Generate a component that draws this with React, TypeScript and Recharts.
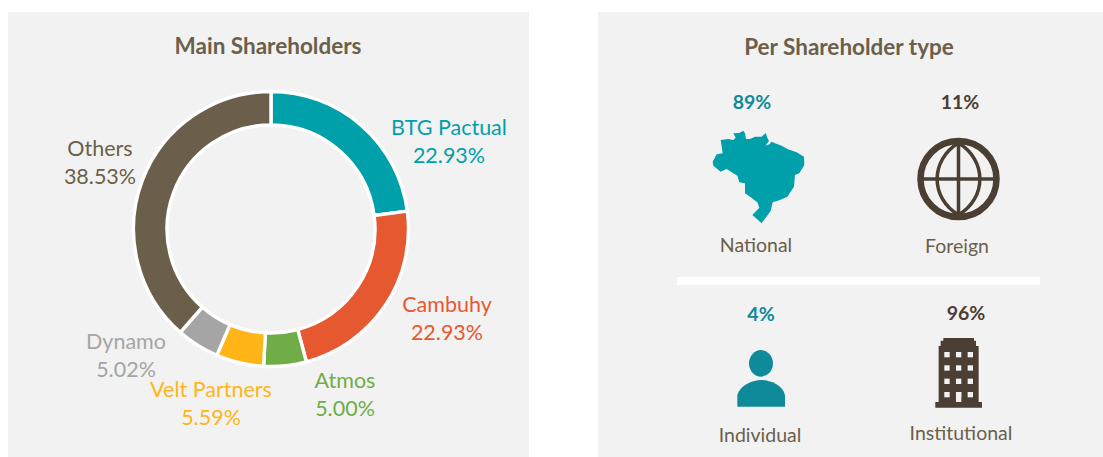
import React from "react";
import { PieChart, Pie, Cell } from "recharts";

const names = ["BTG Pactual", "Cambuhy", "Atmos", "Velt Partners", "Dynamo", "Others"];
const shares = [22.93, 22.93, 5.0, 5.59, 5.02, 38.53];
const colors = ["#00A0AA", "#E6582F", "#70AD47", "#FFB517", "#A5A5A5", "#6B5F4B"];
const labelCenters = [
  [449, 135], [447, 312], [345, 388], [211, 397], [126, 349], [100, 156],
];
const data = names.map((name, i) => ({ name, value: shares[i] }));

const font = "Lato, sans-serif";
const LABEL = 21.5;
const TEAL = "#0F8A9A";
const DARK = "#4A3F32";
const TXT = "#6B5F4B";

const renderLabel = (p: any) => {
  const [x, y] = labelCenters[p.index];
  const fill = colors[p.index];
  return (
    <text x={x} y={y} textAnchor="middle" fontFamily={font} fontSize={LABEL} fill={fill}>
      <tspan x={x} dy={0}>{names[p.index]}</tspan>
      <tspan x={x} dy={28}>{shares[p.index].toFixed(2)}%</tspan>
    </text>
  );
};

const T = ({ x, y, s, size = 19.5, fill = TXT, bold = false }: any) => (
  <text x={x} y={y} textAnchor="middle" fontFamily={font} fontSize={size} fontWeight={bold ? 700 : 400} fill={fill}>{s}</text>
);

const brazil = "M100,25 L118,24 L130,17 L135,25 L138,42 L150,42 L165,35 L185,35 L197,24 L202,38 L207,47 L197,62 L208,58 L215,50 L225,55 L245,62 L262,72 L290,82 L312,95 L313,120 L298,145 L285,150 L282,185 L262,215 L240,225 L218,232 L212,258 L185,295 L157,270 L178,248 L172,232 L150,215 L135,205 L135,175 L118,172 L112,152 L100,145 L80,132 L62,140 L40,122 L38,110 L50,88 L68,85 L62,45 L85,42 L100,45 L107,38 Z";

const windowsX = [763, 798, 833];
const windowsY = [246, 286, 326, 366];

export default function App() {
  return (
    <div style={{ position: "absolute", left: 0, top: 0, width: 1103, height: 457, overflow: "hidden", background: "#fff" }}>
      <div style={{ position: "absolute", left: 8, top: 12, width: 521, height: 445, background: "#F2F2F2" }} />
      <div style={{ position: "absolute", left: 598, top: 12, width: 505, height: 445, background: "#F2F2F2" }} />
      <div style={{ position: "absolute", left: 0, top: 0 }}>
        <PieChart width={1103} height={457} margin={{ top: 0, right: 0, bottom: 0, left: 0 }}>
          <Pie
            data={data}
            dataKey="value"
            nameKey="name"
            cx={271}
            cy={229}
            innerRadius={104}
            outerRadius={137.5}
            startAngle={90}
            endAngle={-270}
            stroke="#fff"
            strokeWidth={3.4}
            label={renderLabel}
            labelLine={false}
            isAnimationActive={false}
          >
            {data.map((d, i) => <Cell key={d.name} fill={colors[i]} />)}
          </Pie>
        </PieChart>
      </div>
      <svg width={1103} height={457} style={{ position: "absolute", left: 0, top: 0 }}>
        <T x={268} y={54} s="Main Shareholders" size={22.5} bold />
        <T x={849} y={55} s="Per Shareholder type" size={22.5} bold />
        <T x={752} y={109} s="89%" size={19.5} bold fill={TEAL} />
        <T x={960} y={109} s="11%" size={19.5} bold fill={DARK} />
        <T x={756} y={252} s="National" />
        <T x={957} y={253} s="Foreign" />
        <rect x={677} y={277} width={363} height={8} fill="#fff" />
        <T x={761} y={321} s="4%" size={19.5} bold fill={TEAL} />
        <T x={966} y={320} s="96%" size={19.5} bold fill={DARK} />
        <T x={760} y={442} s="Individual" />
        <T x={961} y={440} s="Institutional" />
        <g transform="translate(700,125) scale(0.3333)"><path d={brazil} fill="#00A0AA" /></g>
        <g fill="none" stroke={DARK}>
          <circle cx={958.5} cy={179} r={38} strokeWidth={6.5} />
          <path d="M958.5,141 V217 M921,179 H996" strokeWidth={3.5} />
          <path d="M958.5,143 C930,160 930,198 958.5,215 C987,198 987,160 958.5,143 Z" strokeWidth={3.5} />
        </g>
        <g transform="translate(690,270) scale(0.3333)">
          <ellipse cx={213} cy={280} rx={36} ry={40} fill={TEAL} />
          <path d="M142,410 V375 C150,345 190,330 213,330 C240,330 278,345 285,375 V410 Z" fill={TEAL} />
          <path d="M736,413 V396 H746 V228 H752 V212 H760 V204 H852 V212 H858 V228 H866 V396 H876 V413 Z" fill={DARK} />
          {windowsY.map((y) => windowsX.map((x) => <rect key={`${x}-${y}`} x={x} y={y} width={16} height={16} fill="#F2F2F2" />))}
          <rect x={798} y={366} width={16} height={30} fill="#F2F2F2" />
        </g>
      </svg>
    </div>
  );
}
